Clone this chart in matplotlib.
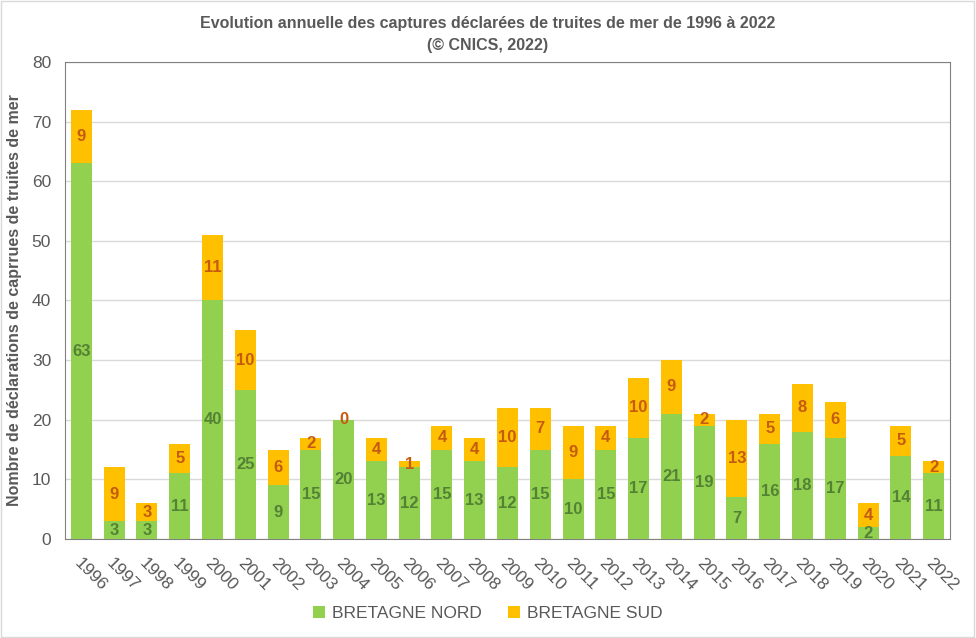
import numpy as np
import matplotlib.pyplot as plt
import matplotlib.transforms as mtransforms

plt.rcParams['font.family'] = ['Liberation Sans', 'DejaVu Sans']

years = [str(y) for y in range(1996, 2023)]
nord = [63, 3, 3, 11, 40, 25, 9, 15, 20, 13, 12, 15, 13, 12, 15, 10, 15, 17, 21, 19, 7, 16, 18, 17, 2, 14, 11]
sud = [9, 9, 3, 5, 11, 10, 6, 2, 0, 4, 1, 4, 4, 10, 7, 9, 4, 10, 9, 2, 13, 5, 8, 6, 4, 5, 2]

green = '#92D050'
orange = '#FFC000'
txt = '#595959'

fig = plt.figure(figsize=(9.76, 6.38), dpi=100)
ax = fig.add_axes([0.0666, 0.1552, 0.9068, 0.7476])

x = np.arange(len(years))
b1 = ax.bar(x, nord, width=0.64, color=green, label='BRETAGNE NORD', zorder=3)
b2 = ax.bar(x, sud, width=0.64, bottom=nord, color=orange, label='BRETAGNE SUD', zorder=3)

for i in x:
    ax.text(i, nord[i] / 2, str(nord[i]), ha='center', va='center',
            color='#548235', fontsize=12, fontweight='bold', zorder=4)
    ax.text(i, nord[i] + sud[i] / 2, str(sud[i]), ha='center', va='center',
            color='#C55A11', fontsize=12, fontweight='bold', zorder=4)

ax.set_xlim(-0.5, len(years) - 0.5)
ax.set_ylim(0, 80)
ax.set_yticks(range(0, 81, 10))
ax.yaxis.grid(True, color='#D9D9D9', linewidth=1, zorder=0)
ax.tick_params(axis='y', length=0, labelsize=12.5, labelcolor=txt, pad=10)
ax.tick_params(axis='x', length=0, labelsize=12.5, labelcolor=txt, pad=16)
ax.set_xticks(x)
ax.set_xticklabels(years, rotation=-45, ha='left', va='center', rotation_mode='anchor')
shift = mtransforms.ScaledTranslation(-0.05, 0, fig.dpi_scale_trans)
for lbl in ax.get_xticklabels():
    lbl.set_transform(lbl.get_transform() + shift)
for s in ax.spines.values():
    s.set_color('#808080')

ax.set_ylabel('Nombre de déclarations de caprrues de truites de mer', fontsize=11.5,
              fontweight='bold', color=txt, va='center')
ax.yaxis.set_label_coords(-0.057, 0.5)

fig.suptitle('Evolution annuelle des captures déclarées de truites de mer de 1996 à 2022\n(© CNICS, 2022)',
             y=0.975, fontsize=11.5, fontweight='bold', color=txt, linespacing=1.6)

fig.legend(handles=[b1, b2], loc='center', bbox_to_anchor=(0.5, 0.038), ncol=2, frameon=False,
           fontsize=12.5, labelcolor=txt, handlelength=0.7, handleheight=0.7, columnspacing=1.5,
           handletextpad=0.4)

fig.patches.append(plt.Rectangle((0.001, 0.002), 0.997, 0.996, transform=fig.transFigure,
                                 fill=False, edgecolor='#D9D9D9', linewidth=1))

fig.savefig('out.png', dpi=100)
